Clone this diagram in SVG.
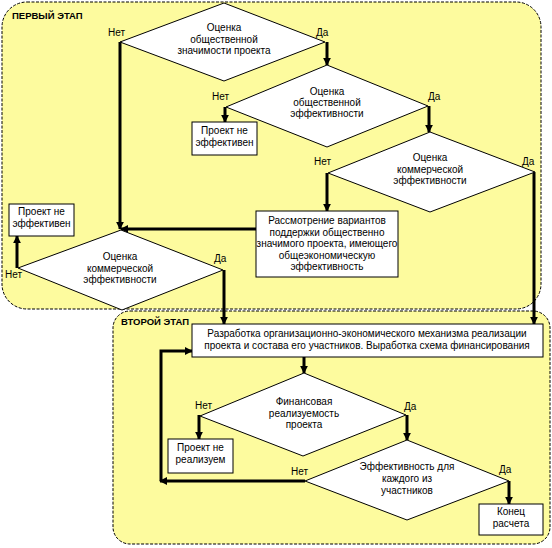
<svg xmlns="http://www.w3.org/2000/svg" width="552" height="548" viewBox="0 0 552 548">
<style>
.panel{fill:#fdfb9e;stroke:#000;stroke-width:1;stroke-dasharray:3 1.5}
.dia{fill:#fff;stroke:#000;stroke-width:1}
.box{fill:#fff;stroke:#000;stroke-width:1}
.t{font-family:"Liberation Sans",Arial,sans-serif;font-size:10px;fill:#000;text-anchor:middle}
.l{font-family:"Liberation Sans",Arial,sans-serif;font-size:10px;fill:#000}
.h{font-family:"Liberation Sans",Arial,sans-serif;font-size:9.5px;font-weight:bold;fill:#000}
.c{fill:none;stroke:#000;stroke-width:3;marker-end:url(#ah)}
</style>
<defs>
<marker id="ah" viewBox="0 0 10 10" refX="9" refY="5" markerWidth="8" markerHeight="8" markerUnits="userSpaceOnUse" orient="auto">
<path d="M0,0 L10,5 L0,10 z" fill="#000"/>
</marker>
</defs>
<rect width="552" height="548" fill="#fff"/>
<g id="stage1">
<rect class="panel" x="2" y="2" width="539" height="307" rx="25" ry="25"/>
<text class="h" x="12" y="19">ПЕРВЫЙ ЭТАП</text>
</g>
<g id="stage2">
<rect class="panel" x="113" y="311" width="437" height="233" rx="17" ry="17"/>
<text class="h" x="121" y="325">ВТОРОЙ ЭТАП</text>
</g>
<g id="connectors">
<path class="c" d="M327,42 V65"/>
<path class="c" d="M120,42 V229"/>
<path class="c" d="M225,107 V122"/>
<path class="c" d="M429,106 V132"/>
<path class="c" d="M327,173 V211"/>
<path class="c" d="M534,172 V324"/>
<path class="c" d="M256,229 H121"/>
<path class="c" d="M17,268 V236"/>
<path class="c" d="M224,270 V324"/>
<path class="c" d="M304,357 V373"/>
<path class="c" d="M199,415 V439"/>
<path class="c" d="M407,415 V440"/>
<path class="c" d="M305,481 H160"/>
<path class="c" d="M161,481 V351 H192"/>
<path class="c" d="M509,481 V504"/>
</g>
<g id="d1">
<polygon class="dia" points="224,3 325,42 224,81 120,42"/>
<text class="t" x="224" y="31">Оценка</text>
<text class="t" x="224" y="42.5">общественной</text>
<text class="t" x="224" y="54">значимости проекта</text>
<text class="l" x="108" y="36">Нет</text>
<text class="l" x="316" y="36">Да</text>
</g>
<g id="d2">
<polygon class="dia" points="327,65 428,106 327,147 226,107"/>
<text class="t" x="327" y="95">Оценка</text>
<text class="t" x="327" y="106">общественной</text>
<text class="t" x="327" y="117">эффективности</text>
<text class="l" x="212" y="100">Нет</text>
<text class="l" x="428" y="100">Да</text>
</g>
<g id="b1">
<rect class="box" x="192" y="122" width="65" height="33"/>
<text class="t" x="224.5" y="134">Проект не</text>
<text class="t" x="224.5" y="146">эффективен</text>
</g>
<g id="d3">
<polygon class="dia" points="430,132 535,172 430,212 328,173"/>
<text class="t" x="430" y="161">Оценка</text>
<text class="t" x="430" y="172.5">коммерческой</text>
<text class="t" x="430" y="184">эффективности</text>
<text class="l" x="314" y="165">Нет</text>
<text class="l" x="522" y="165">Да</text>
</g>
<g id="b2">
<rect class="box" x="256" y="211" width="142" height="66"/>
<text class="t" x="327" y="224">Рассмотрение вариантов</text>
<text class="t" x="327" y="235.5">поддержки общественно</text>
<text class="t" x="327" y="247">значимого проекта, имеющего</text>
<text class="t" x="327" y="258.5">общеэкономическую</text>
<text class="t" x="327" y="270">эффективность</text>
</g>
<g id="d4">
<polygon class="dia" points="121,230 223,270 122,310 18,268"/>
<text class="t" x="120" y="260">Оценка</text>
<text class="t" x="120" y="271.5">коммерческой</text>
<text class="t" x="120" y="283">эффективности</text>
<text class="l" x="5" y="278">Нет</text>
<text class="l" x="214" y="262">Да</text>
</g>
<g id="b3">
<rect class="box" x="9" y="204" width="65" height="32"/>
<text class="t" x="41.5" y="215">Проект не</text>
<text class="t" x="41.5" y="227">эффективен</text>
</g>
<g id="b4">
<rect class="box" x="192" y="324" width="351" height="33"/>
<text class="t" x="367" y="337">Разработка организационно-экономического механизма реализации</text>
<text class="t" x="367" y="349">проекта и состава его участников. Выработка схема финансирования</text>
</g>
<g id="d5">
<polygon class="dia" points="304,373 406,415 303,456 200,416"/>
<text class="t" x="304" y="405">Финансовая</text>
<text class="t" x="304" y="416.5">реализуемость</text>
<text class="t" x="304" y="428">проекта</text>
<text class="l" x="195" y="409">Нет</text>
<text class="l" x="404" y="410">Да</text>
</g>
<g id="b5">
<rect class="box" x="168" y="439" width="65" height="34"/>
<text class="t" x="200.5" y="451">Проект не</text>
<text class="t" x="200.5" y="463">реализуем</text>
</g>
<g id="d6">
<polygon class="dia" points="407,440 509,481 407,520 305,481"/>
<text class="t" x="407" y="470">Эффективность для</text>
<text class="t" x="407" y="482">каждого из</text>
<text class="t" x="407" y="494">участников</text>
<text class="l" x="291" y="475">Нет</text>
<text class="l" x="499" y="473">Да</text>
</g>
<g id="b6">
<rect class="box" x="479" y="504" width="64" height="31"/>
<text class="t" x="511" y="515">Конец</text>
<text class="t" x="511" y="527">расчета</text>
</g>
</svg>
